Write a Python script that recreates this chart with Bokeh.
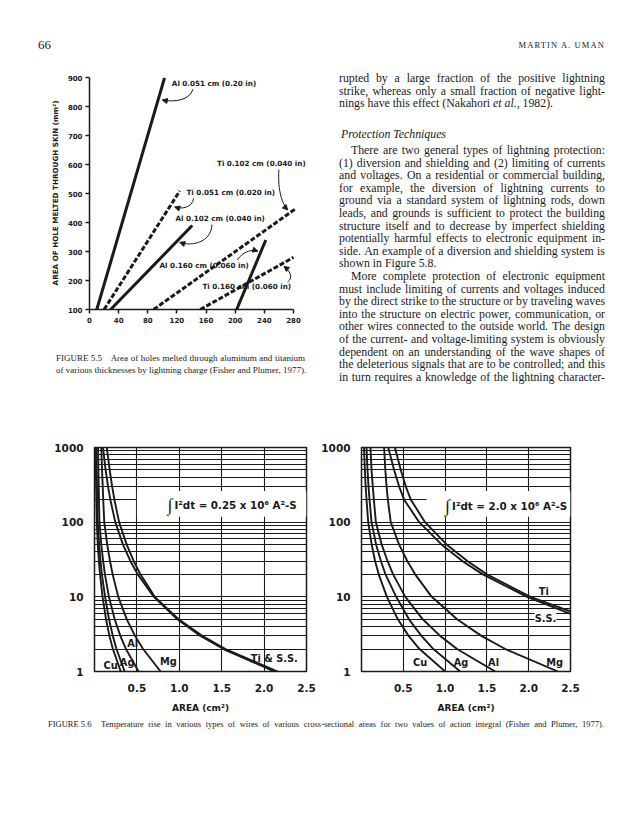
import math
from bokeh.plotting import figure
from bokeh.models import Range1d, FixedTicker, Label, Div, Arrow, NormalHead, PrintfTickFormatter
from bokeh.layouts import column, row
from bokeh.embed import file_html
from bokeh.resources import INLINE

# ---------------- Figure 5.5 data (charge in C, hole area in mm^2) ----------------
charge_ticks = [0, 40, 80, 120, 160, 200, 240, 280]
hole_ticks = [100, 200, 300, 400, 500, 600, 700, 800, 900]
al_051_q = [10, 103]
al_051_area = [100, 900]
ti_051_q = [20, 124]
ti_051_area = [100, 510]
al_102_q = [29, 141]
al_102_area = [100, 390]
ti_102_q = [88, 284]
ti_102_area = [100, 450]
al_160_q = [202, 242]
al_160_area = [100, 340]
ti_160_q = [152, 280]
ti_160_area = [100, 280]

# ---------------- Figure 5.6 data (area in cm^2 at each temperature rise) ----------------
area_ticks = [0.5, 1.0, 1.5, 2.0, 2.5]
dT_ticks = [1, 10, 100, 1000]
dT_minor = [2, 3, 4, 5, 6, 7, 8, 9, 20, 30, 40, 50, 60, 70, 80, 90, 200, 300, 400, 500, 600, 700, 800, 900]
dT_levels = [1000, 500, 300, 200, 100, 50, 30, 20, 10, 5, 3, 2, 1]
# action integral 0.25 x 10^6 A^2 s
cu_025 = [0.013, 0.016, 0.019, 0.022, 0.027, 0.039, 0.052, 0.065, 0.095, 0.136, 0.176, 0.217, 0.31]
ag_025 = [0.022, 0.026, 0.029, 0.032, 0.038, 0.054, 0.071, 0.087, 0.125, 0.171, 0.216, 0.259, 0.355]
al_025 = [0.042, 0.046, 0.050, 0.053, 0.058, 0.080, 0.102, 0.123, 0.17, 0.238, 0.305, 0.371, 0.52]
mg_025 = [0.080, 0.089, 0.097, 0.103, 0.115, 0.150, 0.183, 0.214, 0.28, 0.381, 0.478, 0.573, 0.78]
ss_025 = [0.10, 0.131, 0.160, 0.187, 0.245, 0.336, 0.424, 0.51, 0.70, 0.977, 1.25, 1.52, 2.12]
ti_025 = [0.145, 0.179, 0.208, 0.235, 0.29, 0.38, 0.463, 0.542, 0.71, 0.992, 1.27, 1.545, 2.16]
# action integral 2.0 x 10^6 A^2 s
cu_20 = [0.030, 0.040, 0.050, 0.060, 0.080, 0.122, 0.163, 0.206, 0.304, 0.435, 0.563, 0.694, 1.0]
ag_20 = [0.060, 0.072, 0.084, 0.096, 0.120, 0.175, 0.233, 0.287, 0.415, 0.568, 0.717, 0.86, 1.18]
al_20 = [0.107, 0.12, 0.135, 0.148, 0.172, 0.242, 0.312, 0.378, 0.524, 0.733, 0.94, 1.143, 1.6]
mg_20 = [0.27, 0.285, 0.30, 0.315, 0.35, 0.45, 0.549, 0.642, 0.84, 1.143, 1.434, 1.72, 2.35]
ti_20_area = [0.40, 0.47, 0.53, 0.59, 0.76, 1.02, 1.27, 1.5, 2.02, 2.5]
ti_20_dT = [1000, 500, 300, 200, 100, 50, 30, 20, 10, 6.4]
ss_20_area = [0.32, 0.39, 0.45, 0.51, 0.69, 0.96, 1.21, 1.45, 1.98, 2.5]
ss_20_dT = [1000, 500, 300, 200, 100, 50, 30, 20, 10, 5.9]

SANS = "DejaVu Sans"
SERIF = "Liberation Serif"
INK = "#1a1a1a"

# ======================= Figure 5.5 =======================
p55 = figure(width=320, height=281, x_range=Range1d(0, 302), y_range=Range1d(100, 905),
             output_backend="svg", toolbar_location=None,
             min_border_left=89, min_border_right=11, min_border_top=12, min_border_bottom=36)
p55.outline_line_color = None
p55.grid.visible = False
p55.xaxis.ticker = FixedTicker(ticks=charge_ticks)
p55.yaxis.ticker = FixedTicker(ticks=hole_ticks)
p55.xaxis.bounds = (0, 280)
p55.yaxis.bounds = (100, 900)
for ax in (p55.xaxis[0], p55.yaxis[0]):
    ax.axis_line_width = 1.5
    ax.axis_line_color = INK
    ax.major_tick_line_width = 1.5
    ax.major_tick_line_color = INK
    ax.major_tick_in = 0
    ax.major_tick_out = 4
    ax.minor_tick_line_color = None
    ax.major_label_text_font = SANS
    ax.major_label_text_font_style = "bold"
    ax.major_label_text_font_size = "7px"
    ax.major_label_text_color = INK
    ax.major_label_standoff = 3
p55.yaxis.axis_label = "AREA OF HOLE MELTED THROUGH SKIN (mm\u00b2)"
p55.yaxis.axis_label_text_font = SANS
p55.yaxis.axis_label_text_font_style = "bold"
p55.yaxis.axis_label_text_font_size = "7.2px"
p55.yaxis.axis_label_text_color = INK
p55.yaxis.axis_label_standoff = 5
p55.add_layout(Label(x=132, y=8, text="LIGHTNING FLASH CHARGE (COULOMBS)", text_align="center",
                     text_baseline="middle", text_font=SANS, text_font_style="bold",
                     text_font_size="7.3px", text_color=INK))

for q, a, dash in [(al_051_q, al_051_area, "solid"), (ti_051_q, ti_051_area, "5 2"),
                   (al_102_q, al_102_area, "solid"), (ti_102_q, ti_102_area, "5 2"),
                   (al_160_q, al_160_area, "solid"), (ti_160_q, ti_160_area, "5 2")]:
    p55.line(q, a, line_width=3, line_color=INK, line_dash=dash)

label_pos_55 = [(113, 881), (175, 606), (133, 503), (118, 415), (96, 252), (155, 178)]
label_txt_55 = ["Al 0.051 cm (0.20 in)", "Ti 0.102 cm (0.040 in)", "Ti 0.051 cm (0.020 in)",
                "Al 0.102 cm (0.040 in)", "Al 0.160 cm (0.060 in)", "Ti 0.160 cm (0.060 in)"]
for (lx, ly), t in zip(label_pos_55, label_txt_55):
    p55.add_layout(Label(x=lx, y=ly, text=t, text_align="left", text_baseline="middle",
                         text_font=SANS, text_font_style="bold", text_font_size="7.2px",
                         text_color=INK))

# leader curves: start, control 0, control 1, end (arrow)
leaders = [
    ((142, 861), (138, 823), (116, 815), (100, 824)),
    ((260, 583), (258, 509), (265, 463), (272, 444)),
    ((143, 484), (141, 452), (127, 446), (117, 454)),
    ((168, 393), (168, 338), (143, 315), (124, 332)),
    ((203, 271), (210, 298), (221, 309), (231, 302)),
    ((272, 195), (281, 212), (274, 235), (267, 249)),
]
p55.bezier(x0=[l[0][0] for l in leaders], y0=[l[0][1] for l in leaders],
           cx0=[l[1][0] for l in leaders], cy0=[l[1][1] for l in leaders],
           cx1=[l[2][0] for l in leaders], cy1=[l[2][1] for l in leaders],
           x1=[l[3][0] for l in leaders], y1=[l[3][1] for l in leaders],
           line_color=INK, line_width=1)
for l in leaders:
    p55.add_layout(Arrow(end=NormalHead(size=5, fill_color=INK, line_color=INK, line_width=1),
                         x_start=l[2][0], y_start=l[2][1], x_end=l[3][0], y_end=l[3][1],
                         line_alpha=0))


# ======================= Figure 5.6 =======================
def fig56(width, min_left, min_right):
    p = figure(width=width, height=295, x_range=Range1d(0, 2.5), y_range=Range1d(1, 1000),
               y_axis_type="log", output_backend="svg", toolbar_location=None,
               min_border_left=min_left, min_border_right=min_right,
               min_border_top=27, min_border_bottom=42)
    p.outline_line_color = INK
    p.outline_line_width = 1.5
    p.outline_line_alpha = 1
    p.xaxis.ticker = FixedTicker(ticks=area_ticks)
    p.yaxis.ticker = FixedTicker(ticks=dT_ticks, minor_ticks=dT_minor)
    p.xaxis.formatter = PrintfTickFormatter(format="%.1f")
    p.yaxis.formatter = PrintfTickFormatter(format="%d")
    for ax in (p.xaxis[0], p.yaxis[0]):
        ax.axis_line_color = None
        ax.major_tick_line_color = None
        ax.minor_tick_line_color = None
        ax.major_label_text_font = SANS
        ax.major_label_text_font_style = "bold"
        ax.major_label_text_font_size = "10.5px"
        ax.major_label_text_color = INK
    p.yaxis.major_label_standoff = 5
    p.xaxis.major_label_standoff = 6
    p.xaxis.axis_label = "AREA (cm\u00b2)"
    p.xaxis.axis_label_text_font = SANS
    p.xaxis.axis_label_text_font_style = "bold"
    p.xaxis.axis_label_text_font_size = "9px"
    p.xaxis.axis_label_text_color = INK
    p.xaxis.axis_label_standoff = 8
    p.xgrid.grid_line_color = INK
    p.xgrid.grid_line_width = 1.1
    p.ygrid.grid_line_color = INK
    p.ygrid.grid_line_width = 1.1
    p.ygrid.minor_grid_line_color = INK
    p.ygrid.minor_grid_line_width = 1.1
    return p


def annotate(p, x, y, txt):
    p.add_layout(Label(x=x, y=y, text="\u222b", text_align="left", text_baseline="middle",
                       text_font=SERIF, text_font_size="18px", text_color=INK))
    p.add_layout(Label(x=x, y=y, x_offset=7, text=txt, text_align="left", text_baseline="middle",
                       text_font=SANS, text_font_style="bold", text_font_size="10.3px",
                       text_color=INK))


def small(p, x, y, t, bg=None):
    p.add_layout(Label(x=x, y=y, text=t, text_align="center", text_baseline="middle",
                       text_font=SANS, text_font_style="bold", text_font_size="9.8px",
                       text_color=INK, background_fill_color=bg))


pa = fig56(318, 94, 12)
pa.quad(left=0.5, right=2.5, bottom=118, top=262, fill_color="white", line_color=None)
for xs in (cu_025, ag_025, al_025, mg_025, ss_025, ti_025):
    pa.line(xs, dT_levels, line_color=INK, line_width=1.9)
annotate(pa, 0.86, 170, "I\u00b2dt = 0.25 x 10\u2076  A\u00b2-S")
small(pa, 0.19, 1.2, "Cu")
small(pa, 0.385, 1.33, "Ag")
small(pa, 0.45, 2.4, "Al")
small(pa, 0.87, 1.36, "Mg")
small(pa, 2.12, 1.49, "Ti & S.S.")
pa.add_layout(Label(x=-0.30, y=31.6, text="\u0394T\u00b0C", angle=math.pi / 2, text_align="center",
                    text_baseline="middle", text_font=SANS, text_font_style="bold",
                    text_font_size="9px", text_color=INK))

pb = fig56(308, 41, 56)
pb.quad(left=0.78, right=2.5, bottom=118, top=262, fill_color="white", line_color=None)
for xs in (cu_20, ag_20, al_20, mg_20):
    pb.line(xs, dT_levels, line_color=INK, line_width=1.9)
pb.line(ti_20_area, ti_20_dT, line_color=INK, line_width=1.9)
pb.line(ss_20_area, ss_20_dT, line_color=INK, line_width=1.9)
annotate(pb, 1.0, 165, "I\u00b2dt = 2.0 x 10\u2076  A\u00b2-S")
small(pb, 2.18, 11.9, "Ti")
small(pb, 2.2, 5.2, "S.S.", bg="white")
small(pb, 0.70, 1.32, "Cu")
small(pb, 1.19, 1.32, "Ag")
small(pb, 1.58, 1.32, "Al")
small(pb, 2.31, 1.32, "Mg")
pb.add_layout(Label(x=-0.25, y=31.6, text="\u0394T\u00b0C", angle=math.pi / 2, text_align="center",
                    text_baseline="middle", text_font=SANS, text_font_style="bold",
                    text_font_size="9px", text_color=INK))

# ======================= page text =======================
body_lines = [
    ("rupted by a large fraction of the positive lightning", "j", 0),
    ("strike, whereas only a small fraction of negative light-", "j", 0),
    ("nings have this effect (Nakahori <i>et al.</i>, 1982).", "l", 0),
    ("<i>Protection Techniques</i>", "l", 2),
    ("There are two general types of lightning protection:", "j", 12),
    ("(1) diversion and shielding and (2) limiting of currents", "j", 0),
    ("and voltages. On a residential or commercial building,", "j", 0),
    ("for example, the diversion of lightning currents to", "j", 0),
    ("ground via a standard system of lightning rods, down", "j", 0),
    ("leads, and grounds is sufficient to protect the building", "j", 0),
    ("structure itself and to decrease by imperfect shielding", "j", 0),
    ("potentially harmful effects to electronic equipment in-", "j", 0),
    ("side. An example of a diversion and shielding system is", "j", 0),
    ("shown in Figure 5.8.", "l", 0),
    ("More complete protection of electronic equipment", "j", 12),
    ("must include limiting of currents and voltages induced", "j", 0),
    ("by the direct strike to the structure or by traveling waves", "j", 0),
    ("into the structure on electric power, communication, or", "j", 0),
    ("other wires connected to the outside world. The design", "j", 0),
    ("of the current- and voltage-limiting system is obviously", "j", 0),
    ("dependent on an understanding of the wave shapes of", "j", 0),
    ("the deleterious signals that are to be controlled; and this", "j", 0),
    ("in turn requires a knowledge of the lightning character-", "j", 0),
]
body_y = [78, 90.6, 103.2, 134] + [150 + 12.6 * k for k in range(19)]


def line_html(text, mode, left, width, top, size, h):
    base = (f"position:absolute;left:{left}px;top:{top:.1f}px;width:{width}px;height:{h}px;"
            f"line-height:{h}px;white-space:nowrap;font-size:{size}px;")
    if mode == "j":
        spans = "".join(f"<span>{w}</span>" for w in text.split(" "))
        return f'<div style="{base}display:flex;justify-content:space-between;">{spans}</div>'
    return f'<div style="{base}">{text}</div>'


TXT_X, TXT_TOP = 320, 64
col_left, col_w = 339 - TXT_X, 266
html = [f'<div style="position:relative;width:306px;height:356px;font-family:\'{SERIF}\';color:{INK};">']
for (t, mode, ind), yc in zip(body_lines, body_y):
    html.append(line_html(t, mode, col_left + ind, col_w - ind, yc - TXT_TOP - 7, 11.8, 14))
html.append("</div>")
text_div = Div(text="".join(html), width=306, height=356, margin=(0, 0, 0, 0))

header_div = Div(text=(
    f'<div style="position:relative;width:626px;height:64px;font-family:\'{SERIF}\';color:{INK};">'
    '<div style="position:absolute;left:38px;top:37px;font-size:13px;line-height:16px;">66</div>'
    '<div style="position:absolute;right:21px;top:39px;font-size:8.5px;line-height:12px;'
    'letter-spacing:1.1px;">MARTIN A. UMAN</div></div>'),
    width=626, height=64, margin=(0, 0, 0, 0))

CAP_TOP = 345
cap_words = ['<span style="padding-right:6px;">FIGURE&nbsp;5.5</span>'] + \
    "Area of holes melted through aluminum and titanium".split(" ")
cap_html = [f'<div style="position:relative;width:320px;height:75px;font-family:\'{SERIF}\';color:{INK};">',
            f'<div style="position:absolute;left:56px;top:{358 - CAP_TOP - 6}px;width:249px;height:12px;'
            f'line-height:12px;white-space:nowrap;font-size:9px;display:flex;justify-content:space-between;">'
            + "".join(f"<span>{w}</span>" for w in cap_words) + "</div>",
            line_html("of various thicknesses by lightning charge (Fisher and Plumer, 1977).", "l",
                      56, 249, 370 - CAP_TOP - 6, 9, 12),
            "</div>"]
cap55_div = Div(text="".join(cap_html), width=320, height=75, margin=(0, 0, 0, 0))

cap56_words = ['<span style="padding-right:5px;">FIGURE&nbsp;5.6</span>'] + (
    "Temperature rise in various types of wires of various cross-sectional areas for two values "
    "of action integral (Fisher and Plumer, 1977).").split(" ")
cap56_div = Div(text=(
    f'<div style="position:relative;width:626px;height:30px;font-family:\'{SERIF}\';color:{INK};">'
    f'<div style="position:absolute;left:48px;top:3px;width:556px;height:12px;line-height:12px;'
    f'white-space:nowrap;font-size:8.5px;display:flex;justify-content:space-between;">'
    + "".join(f"<span>{w}</span>" for w in cap56_words) + "</div></div>"),
    width=626, height=30, margin=(0, 0, 0, 0))

for p in (p55, pa, pb):
    p.margin = (0, 0, 0, 0)
    p.border_fill_color = "white"
    p.background_fill_color = "white"

layout = column(header_div,
                row(column(p55, cap55_div, spacing=0), text_div, spacing=0),
                row(pa, pb, spacing=0),
                cap56_div, spacing=0)

open("out.html", "w").write(file_html(layout, INLINE))
